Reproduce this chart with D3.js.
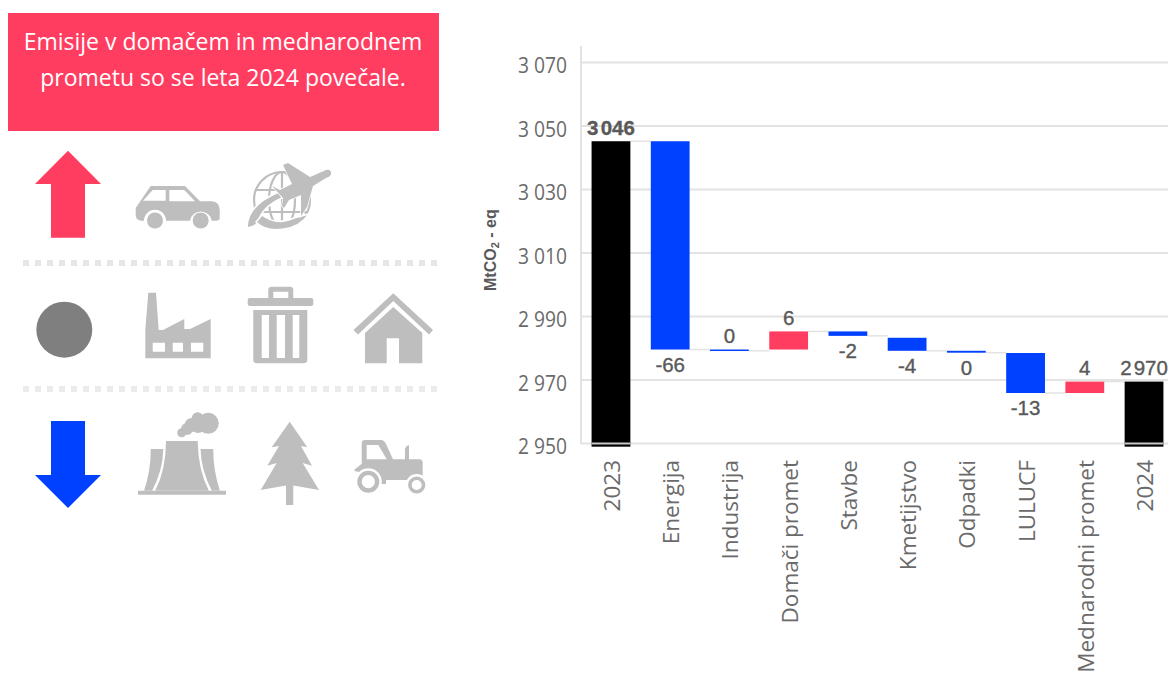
<!DOCTYPE html>
<html><head><meta charset="utf-8">
<script src="https://cdn.jsdelivr.net/npm/d3@7"></script>
<style>html,body{margin:0;padding:0;background:#fff;overflow:hidden}svg{display:block}</style>
</head><body>
<svg id="c" width="1170" height="673"></svg>
<script>
const categories = ["2023","Energija","Industrija","Domači promet","Stavbe","Kmetijstvo","Odpadki","LULUCF","Mednarodni promet","2024"];
const barStart = [2949,3045.2,2979.6,2979.6,2985.3,2983.3,2979.2,2978.5,2965.9,2949];
const barEnd   = [3045.2,2979.6,2979.2,2985.3,2983.9,2979.2,2978.6,2965.9,2969.5,2969.5];
const barLabels = ["3 046","-66","0","6","-2","-4","0","-13","4","2 970"];
const barKinds = ["total","down","down","up","down","down","down","down","up","total"];
const labelBelow = [false,true,false,false,true,true,true,true,false,false];
const yTicks = [2950,2970,2990,3010,3030,3050,3070];
const banner = ["Emisije v domačem in mednarodnem","prometu so se leta 2024 povečale."];
const kindColor = {total:"#000000",down:"#0040FF",up:"#FF3D60"};
const svg = d3.select("#c");
const RED="#FF3D60",BLUE="#0040FF",ICON="#BEBEBE";
const y = d3.scaleLinear().domain([2950,3070]).range([443.5,62.5]);
const x = d3.scaleBand().domain(categories).range([581.5,1173.5]).paddingInner(0.345).paddingOuter(0.17);
const fmt = d=>String(d).replace(/(\d)(\d{3})$/,"$1 $2");

// banner
svg.append("rect").attr("x",8).attr("y",13).attr("width",431).attr("height",118).attr("fill",RED);
svg.selectAll(".bn").data(banner).join("text").attr("x",223).attr("y",(d,i)=>50+i*36)
  .attr("text-anchor","middle").attr("fill","#fff").attr("font-family","'Open Sans'").attr("font-size",23).text(d=>d);

// grid
svg.append("g").selectAll("line").data(yTicks).join("line").attr("x1",581).attr("x2",1168)
  .attr("y1",d=>y(d)).attr("y2",d=>y(d)).attr("stroke","#E3E3E3").attr("stroke-width",2);
svg.append("line").attr("x1",581).attr("x2",581).attr("y1",46).attr("y2",444).attr("stroke","#E3E3E3").attr("stroke-width",2);
svg.selectAll(".yt").data(yTicks).join("text").attr("x",567).attr("y",d=>y(d)+10.5)
  .attr("text-anchor","end").attr("fill","#6A6A6A").attr("font-family","'Open Sans'").attr("font-size",22).attr("textLength",49).attr("lengthAdjust","spacingAndGlyphs").text(fmt);

// connectors
svg.selectAll(".cn").data(categories.slice(0,-1)).join("line")
  .attr("x1",d=>x(d)+x.bandwidth()).attr("x2",(d,i)=>x(categories[i+1]))
  .attr("y1",(d,i)=>y(barEnd[i])).attr("y2",(d,i)=>y(barEnd[i])).attr("stroke","#E3E3E3").attr("stroke-width",1.5);

// bars
svg.selectAll(".b").data(categories).join("rect")
  .attr("x",d=>x(d)).attr("width",x.bandwidth())
  .attr("y",(d,i)=>y(Math.max(barStart[i],barEnd[i])))
  .attr("height",(d,i)=>Math.max(1.5,Math.abs(y(barStart[i])-y(barEnd[i]))))
  .attr("fill",(d,i)=>kindColor[barKinds[i]]);
["2023","2024"].forEach(c=>svg.append("line").attr("x1",x(c)).attr("x2",x(c)+x.bandwidth()).attr("y1",y(2950)).attr("y2",y(2950)).attr("stroke","#C8C8C8").attr("stroke-width",2));

// labels
svg.selectAll(".l").data(categories).join("text")
  .attr("x",d=>x(d)+x.bandwidth()/2)
  .attr("y",(d,i)=>{
    const top=y(Math.max(barStart[i],barEnd[i])),bot=y(Math.min(barStart[i],barEnd[i]));
    return labelBelow[i]?bot+22:top-6.5;})
  .attr("text-anchor","middle").attr("fill","#595959")
  .attr("font-family","'Liberation Sans'").attr("font-size",20.5).attr("word-spacing",-3.5)
  .attr("font-weight",(d,i)=>i===0?"bold":"normal").attr("stroke","#595959").attr("stroke-width",0.35)
  .text((d,i)=>barLabels[i]);

// x labels
svg.selectAll(".xl").data(categories).join("text")
  .attr("transform",d=>`translate(${x(d)+x.bandwidth()/2+9},460) rotate(-90)`)
  .attr("text-anchor","end").attr("fill","#6A6A6A").attr("font-family","'Open Sans'").attr("font-size",22.5).text(d=>d);

// y title
const t = svg.append("text").attr("transform","translate(496,291) rotate(-90)").attr("fill","#595959")
  .attr("font-family","'Liberation Sans'").attr("font-weight","bold").attr("font-size",16);
t.append("tspan").text("MtCO");
t.append("tspan").attr("font-size",11).attr("dy",3).text("2");
t.append("tspan").attr("dy",-3).text(" - eq");

// dotted separators
[[263,"#E6E6E6"],[389,"#EBEBEB"]].forEach(v=>svg.append("line").attr("x1",23).attr("x2",438).attr("y1",v[0]).attr("y2",v[0])
  .attr("stroke",v[1]).attr("stroke-width",6).attr("stroke-dasharray","6 6"));

// arrows and dot
svg.append("path").attr("d","M68 150.7L101 184H85V237.7H51V184H35Z").attr("fill",RED);
svg.append("path").attr("d","M68 508L101 475H85V421H51V475H35Z").attr("fill",BLUE);
svg.append("circle").attr("cx",64.3).attr("cy",329.7).attr("r",28).attr("fill","#7F7F7F");

const icon = d=>svg.append("path").attr("d",d).attr("fill",ICON).attr("fill-rule","evenodd");
const disc = (cx,cy,r,f)=>svg.append("circle").attr("cx",cx).attr("cy",cy).attr("r",r).attr("fill",f||ICON);
// car
icon("M135.7 208L150.7 186H185L200 201.3H211.7Q219.7 202 219.7 210V218Q219.7 220.7 216 220.7H211.7A11 11 0 0 0 190 220.7H166A11 11 0 0 0 144 220.7H141Q135.7 220 135.7 215ZM143 200.7H165.7V190H152.7ZM169.3 190V201.3H195L184.3 190Z");
disc(155,220.5,8); disc(200.7,220.5,8);
// globe
const g = svg.append("g").attr("fill","none").attr("stroke",ICON).attr("stroke-width",2.2);
g.append("circle").attr("cx",282).attr("cy",200).attr("r",28);
g.append("ellipse").attr("cx",282).attr("cy",200).attr("rx",13).attr("ry",28);
g.append("path").attr("d","M282 172V228M256 190H308M256 212H308");
svg.append("path").attr("d","M240 238L240 200L270 170L278 178L250 210Z").attr("fill","#fff").attr("opacity",0);
// swooshes
svg.append("path").attr("d","M247 228Q247 205 279 192L282 198Q262 207 258 222Q256 226 247 228Z").attr("fill",ICON).attr("stroke","#fff").attr("stroke-width",1.5);
svg.append("path").attr("d","M256 222Q266 232 284 229Q300 227 309 214L294 218Q276 226 262 215Z").attr("fill",ICON).attr("stroke","#fff").attr("stroke-width",1.5);
// plane
svg.append("path").attr("d","M331 172Q332 176 326 178L313 186L307 207L301 216L301 195L289 200L284 208L282 206L283 198L272 186L280 190L292 184L283 165L288 163L310 177L326 170Q330 169 331 172Z").attr("fill",ICON).attr("stroke","#fff").attr("stroke-width",1.5).attr("paint-order","stroke");
// factory
icon("M148.3 292.7H156L158.7 330H163L184.3 319V329H190L210.7 319V358.3H145.3V330ZM152.7 342.7V351.7H165V342.7ZM172.7 342.7V351.7H183V342.7ZM191 342.7V351.7H203.3V342.7Z");
// bin
icon("M247.7 300Q247.7 298 250 298H268.3V290Q268.3 286.7 272 286.7H290Q293.3 286.7 293.3 290V298H311Q313.3 298 313.3 300V304Q313.3 306 311 306H250Q247.7 306 247.7 304ZM273.3 291.7V298H288.3V291.7ZM253.3 310H307.3V360Q307.3 363.3 303 363.3H257.5Q253.3 363.3 253.3 360ZM261.7 315V358H269V315ZM276.7 315V358H285V315ZM292.7 315V358H299.3V315Z");
// house
icon("M393.3 293.3L433 330L429 334.5L393.3 301L358 334.5L353.5 330ZM393.3 307L422.3 333V363.3H399V338.3H386.7V363.3H365V333Z");
// cooling towers
icon("M166 441H197.7Q198 470 209 491H155Q166 470 166 441ZM150.7 449H163.3Q163 470 152 491H144Q151 470 150.7 449ZM200.5 449H213.3Q213 470 220 491H212Q201 470 200.5 449ZM138 490.7H226V494.7H138Z");
[[181.7,432.7,4.5],[187,429,6],[191.7,425,7],[197.7,418.3,6],[198,426,7],[208.3,423.3,10.5]].forEach(c=>disc(c[0],c[1],c[2]));
// tree
icon("M289.7 421.7L307.3 447.3L301 446L312 465.7L302.7 463L319 490L293.3 485.5V505H286V485.5L260.7 490L276.7 463L267.3 465.7L279 446L271.7 447.3Z");
// tractor
icon("M361.7 443Q361.7 440 365 440H381Q384 440 386 444L393 459.3H405V450Q405 446 409 445V459.3H420Q422.7 460 422.7 463V475L422 480H386V484H380V476L354 471L361.7 464ZM366.7 445V459.3H386.7L378.3 445Z");
svg.append("path").attr("d","M354 470L361.7 464V470Z").attr("fill",ICON);
disc(368.3,481.7,13.5,"#fff"); disc(416.7,485,11,"#fff");
svg.append("circle").attr("cx",368.3).attr("cy",481.7).attr("r",8.8).attr("fill","#fff").attr("stroke",ICON).attr("stroke-width",4.4);
svg.append("circle").attr("cx",416.7).attr("cy",485).attr("r",6.8).attr("fill","#fff").attr("stroke",ICON).attr("stroke-width",3.6);
</script></body></html>
